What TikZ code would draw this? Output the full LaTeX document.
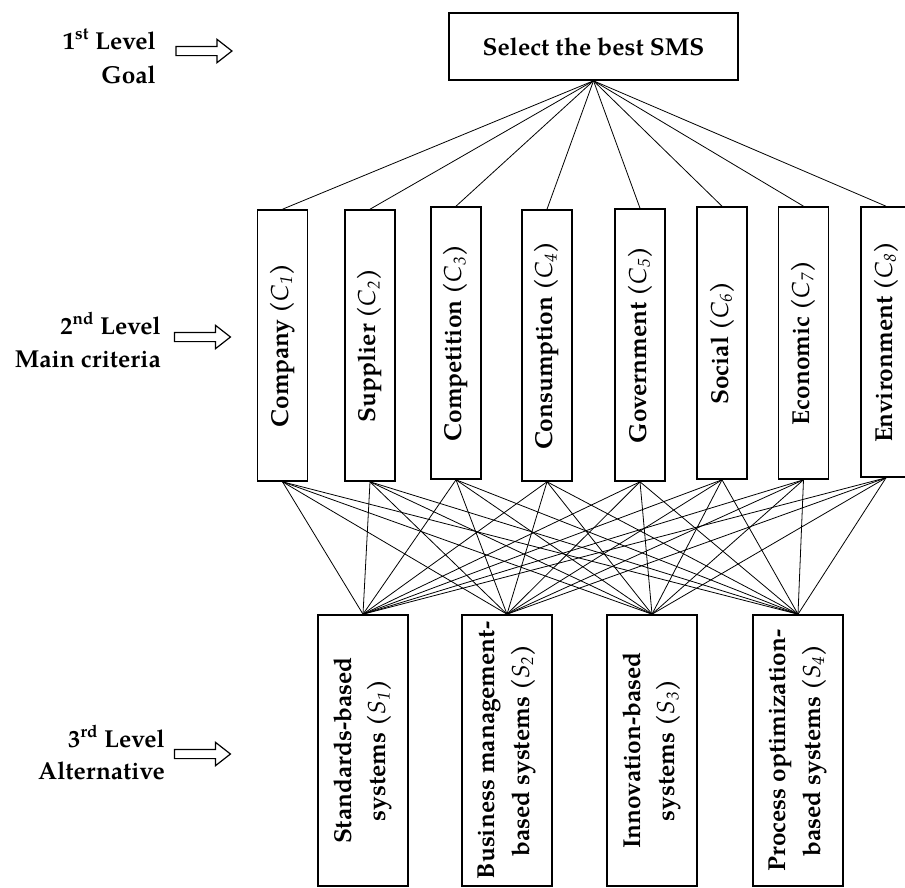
\documentclass[tikz,border=0pt]{standalone}
\usepackage{fontspec}
\setmainfont{texgyrepagella}[Extension=.otf, UprightFont=*-regular, BoldFont=*-bold, ItalicFont=*-italic, BoldItalicFont=*-bolditalic]
\usetikzlibrary{shapes.arrows}
\newcommand\critsub[2]{(\textit{\mdseries #1}\textsubscript{\textit{\mdseries #2}})}
\begin{document}
\begin{tikzpicture}[x=1pt,y=1pt,
  txt/.style={font=\fontsize{24.5}{34.5}\selectfont\bfseries},
  box/.style={draw, line width=1.6pt, inner sep=0pt, txt},
  crit/.style={box, rotate=90, minimum height=50pt},
  alt/.style={box, rotate=90, minimum width=271pt, minimum height=90pt, align=center},
  link/.style={line width=0.8pt},
  lvl/.style={txt, anchor=base east, inner sep=0pt},
  lvlarrow/.style={single arrow, draw, line width=1.2pt, inner xsep=0pt, inner ysep=4pt,
    minimum height=56pt, single arrow head extend=7pt, single arrow tip angle=76}
]
\useasboundingbox (0,0) rectangle (905,-887);

% Goal
\node[box, minimum width=289pt, minimum height=67pt] (goal) at (593.5,-46.5) {Select the best SMS};

% Criteria
\node[crit, minimum width=271pt] (c1) at (282.5,-345.5) {Company \critsub{C}{1}};
\node[crit, minimum width=271pt] (c2) at (370,-345.5) {Supplier \critsub{C}{2}};
\node[crit, minimum width=272pt] (c3) at (456,-343) {Competition \critsub{C}{3}};
\node[crit, minimum width=271pt] (c4) at (547,-345.5) {Consumption \critsub{C}{4}};
\node[crit, minimum width=272pt] (c5) at (640,-345) {Government \critsub{C}{5}};
\node[crit, minimum width=272pt] (c6) at (722,-343) {Social \critsub{C}{6}};
\node[crit, minimum width=272pt] (c7) at (803.5,-343) {Economic \critsub{C}{7}};
\node[crit, minimum width=270pt] (c8) at (886,-342) {Environment \critsub{C}{8}};

% Alternatives
\node[alt] (s1) at (363,-750.5) {Standards-based\\systems \critsub{S}{1}};
\node[alt] (s2) at (507,-750.5) {Business management-\\based systems \critsub{S}{2}};
\node[alt] (s3) at (652,-750.5) {Innovation-based\\systems \critsub{S}{3}};
\node[alt] (s4) at (798,-750.5) {Process optimization-\\based systems \critsub{S}{4}};

% Goal to criteria
\foreach \c in {c1,c2,c3,c4,c5,c6,c7,c8}
  \draw[link] (goal.south) -- (\c.east);

% Criteria to alternatives
\foreach \c in {c1,c2,c3,c4,c5,c6,c7,c8}
  \foreach \s in {s1,s2,s3,s4}
    \draw[link] (\c.west) -- (\s.east);

% Level labels
\node[lvl] (l1a) at (156,-49) {1\textsuperscript{st} Level};
\node[lvl] (l1b) at (156,-83) {Goal};
\node[lvlarrow] (a1) at (201,-51) {};

\node[lvl] (l2a) at (161,-334) {2\textsuperscript{nd} Level};
\node[lvl] (l2b) at (161,-367) {Main criteria};
\node[lvlarrow] (a2) at (199.5,-337) {};

\node[lvl] (l3a) at (165,-747) {3\textsuperscript{rd} Level};
\node[lvl] (l3b) at (165,-779) {Alternative};
\node[lvlarrow] (a3) at (199.5,-754) {};
\end{tikzpicture}
\end{document}
